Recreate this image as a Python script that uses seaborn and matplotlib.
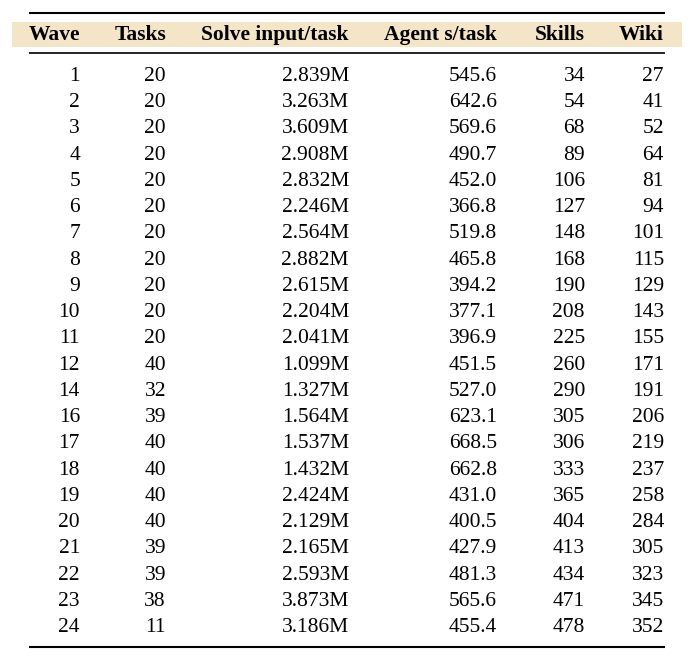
import matplotlib

matplotlib.use("Agg")
import matplotlib.pyplot as plt
import pandas as pd
import seaborn as sns
from matplotlib.patches import Rectangle

# table data
headers = ["Wave", "Tasks", "Solve input/task", "Agent s/task", "Skills", "Wiki"]
waves = [1, 2, 3, 4, 5, 6, 7, 8, 9, 10, 11, 12, 14, 16, 17, 18, 19, 20, 21, 22, 23, 24]
tasks = [20, 20, 20, 20, 20, 20, 20, 20, 20, 20, 20, 40, 32, 39, 40, 40, 40, 40, 39, 39, 38, 11]
solve_input = [
    2.839, 3.263, 3.609, 2.908, 2.832, 2.246, 2.564, 2.882, 2.615, 2.204, 2.041,
    1.099, 1.327, 1.564, 1.537, 1.432, 2.424, 2.129, 2.165, 2.593, 3.873, 3.186,
]
agent_s = [
    545.6, 642.6, 569.6, 490.7, 452.0, 366.8, 519.8, 465.8, 394.2, 377.1, 396.9,
    451.5, 527.0, 623.1, 668.5, 662.8, 431.0, 400.5, 427.9, 481.3, 565.6, 455.4,
]
skills = [34, 54, 68, 89, 106, 127, 148, 168, 190, 208, 225, 260, 290, 305, 306, 333, 365, 404, 413, 434, 471, 478]
wiki = [27, 41, 52, 64, 81, 94, 101, 115, 129, 143, 155, 171, 191, 206, 219, 237, 258, 284, 305, 323, 345, 352]

df = pd.DataFrame(
    {
        "Wave": [str(w) for w in waves],
        "Tasks": [str(t) for t in tasks],
        "Solve input/task": [f"{v:.3f}M" for v in solve_input],
        "Agent s/task": [f"{v:.1f}" for v in agent_s],
        "Skills": [str(s) for s in skills],
        "Wiki": [str(w) for w in wiki],
    }
)

sns.set_theme(style="white")
plt.rcParams["font.family"] = ["Liberation Serif", "DejaVu Serif"]

W, H = 694, 660
fig = plt.figure(figsize=(W / 100, H / 100), dpi=100)
ax = fig.add_axes([0, 0, 1, 1])
ax.set_xlim(0, W)
ax.set_ylim(H, 0)
ax.axis("off")

col_right = [80, 166, 349, 497, 585, 664]
fs = 15.5

# header band and rules
ax.add_patch(Rectangle((12, 22), 670, 25, facecolor="#f5e5c8", edgecolor="none", zorder=0))
ax.plot([29, 665], [13, 13], color="black", lw=1.5, solid_capstyle="butt")
ax.plot([29, 665], [53, 53], color="black", lw=1.2, solid_capstyle="butt")
ax.plot([29, 665], [647, 647], color="black", lw=1.5, solid_capstyle="butt")

for x, h in zip(col_right, headers):
    ax.text(x, 40, h, ha="right", va="baseline", fontsize=fs, fontweight="bold", color="black")

row_step = (632 - 81) / (len(df) - 1)
for i, row in enumerate(df.itertuples(index=False)):
    y = 81 + i * row_step
    for x, val in zip(col_right, row):
        ax.text(x, y, val, ha="right", va="baseline", fontsize=fs, color="black")

fig.savefig("out.png", dpi=100, facecolor="white")
plt.close(fig)
